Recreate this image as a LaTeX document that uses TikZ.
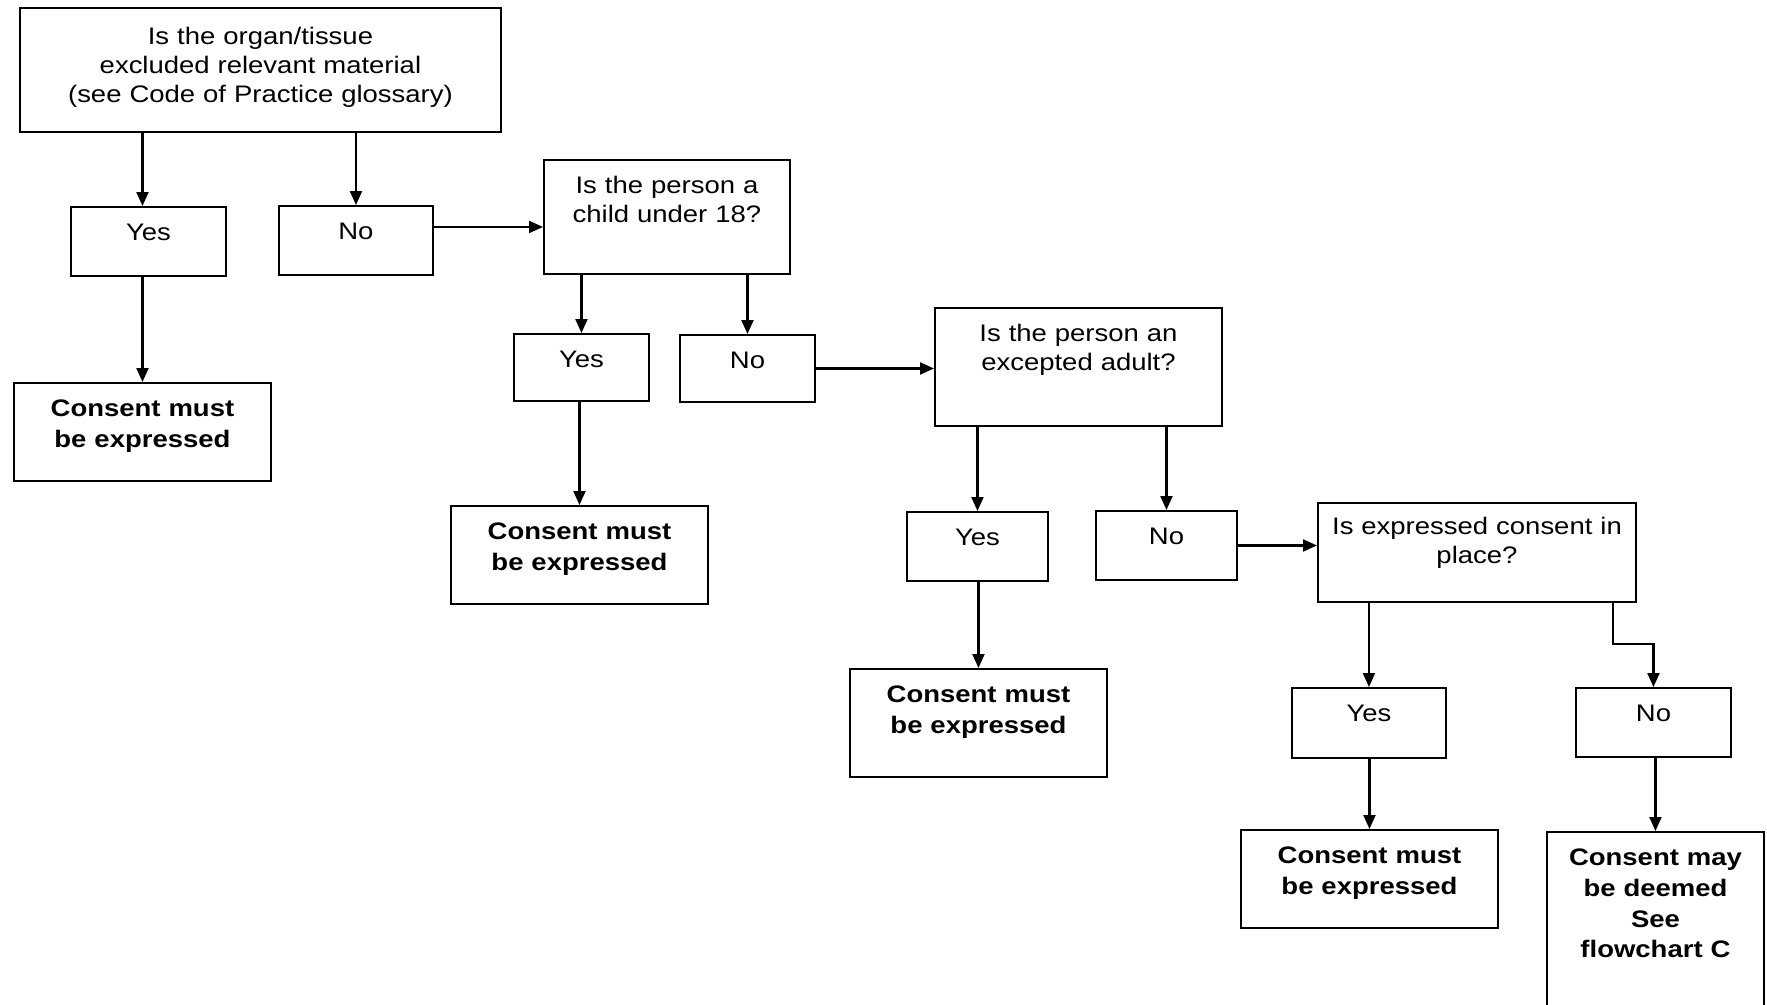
\documentclass[tikz,border=0pt]{standalone}
\usepackage{fontspec}
\setmainfont{Liberation Sans}[FakeStretch=1.15]
\usetikzlibrary{arrows.meta}
\begin{document}
\begin{tikzpicture}[x=0.2mm,y=-0.2mm,
		box/.style={draw,line width=1.1pt,anchor=north west,inner xsep=0pt,inner ysep=0pt,align=center,text height=6.8mm,font=\fontsize{13.6}{16.5}\selectfont},
		endbox/.style={box,font=\fontsize{13.6}{17.4}\selectfont\bfseries},
		arr/.style={line width=1.2pt,-{Triangle[length=2.8mm,width=2.4mm]}}]
		\useasboundingbox (0,0) rectangle (1767,1004);
		\clip (0,0) rectangle (1767,1004);
		\node[box,text width=96.2mm,text height=7.4mm,text depth=17.4mm] (q1) at (19,7) {Is the organ/tissue\\excluded relevant material\\(see Code of Practice glossary)};
		\node[box,text width=31mm,text depth=7mm] (yes1) at (70,206) {Yes};
		\node[box,text width=30.8mm,text depth=7mm] (no1) at (278,205) {No};
		\node[endbox,text width=51.4mm,text depth=12.8mm] (cm1) at (13,382) {Consent must\\be expressed};
		\node[box,text width=49.2mm,text depth=16mm] (q2) at (543,159) {Is the person a\\child under 18?};
		\node[box,text width=27mm,text depth=6.6mm] (yes2) at (513,333) {Yes};
		\node[box,text width=27mm,text depth=6.6mm] (no2) at (679,334) {No};
		\node[endbox,text width=51.4mm,text depth=12.8mm] (cm2) at (450,505) {Consent must\\be expressed};
		\node[box,text width=57.4mm,text depth=16.8mm] (q3) at (934,307) {Is the person an\\excepted adult?};
		\node[box,text width=28.2mm,text depth=7mm] (yes3) at (906,511) {Yes};
		\node[box,text width=28.2mm,text depth=7mm] (no3) at (1095,510) {No};
		\node[endbox,text width=51.4mm,text depth=14.8mm] (cm3) at (849,668) {Consent must\\be expressed};
		\node[box,text width=63.6mm,text height=6.4mm,text depth=13.4mm] (q4) at (1317,502) {Is expressed consent in\\place?};
		\node[box,text width=30.8mm,text depth=7.2mm] (yes4) at (1291,687) {Yes};
		\node[box,text width=31mm,text depth=7mm] (no4) at (1575,687) {No};
		\node[endbox,text width=51.4mm,text depth=12.8mm] (cm4) at (1240,829) {Consent must\\be expressed};
		\node[endbox,text width=43.4mm,text depth=33.2mm] (deem) at (1546,831) {Consent may\\be deemed\\See\\flowchart C};
		\coordinate (bend) at (1613,644);
		\draw[arr] (q1.south -| cm1.north) -- (yes1.north -| cm1.north);
		\draw[arr] (q1.south -| no1.north) -- (no1.north);
		\draw[arr] (yes1.south -| cm1.north) -- (cm1.north);
		\draw[arr] ([yshift=2.7mm]no1.east) -- ([yshift=2.7mm]no1.east -| q2.west);
		\draw[arr] (q2.south -| yes2.north) -- (yes2.north);
		\draw[arr] (q2.south -| no2.north) -- (no2.north);
		\draw[arr] (yes2.south -| cm2.north) -- (cm2.north);
		\draw[arr] (no2.east) -- (no2.east -| q3.west);
		\draw[arr] (q3.south -| yes3.north) -- (yes3.north);
		\draw[arr] (q3.south -| no3.north) -- (no3.north);
		\draw[arr] (yes3.south -| cm3.north) -- (cm3.north);
		\draw[arr] (no3.east) -- (no3.east -| q4.west);
		\draw[arr] (q4.south -| yes4.north) -- (yes4.north);
		\draw[arr] (q4.south -| bend) -- (bend) -| (no4.north);
		\draw[arr] (yes4.south -| cm4.north) -- (cm4.north);
		\draw[arr] (no4.south -| deem.north) -- (deem.north);
	\end{tikzpicture}
\end{document}
